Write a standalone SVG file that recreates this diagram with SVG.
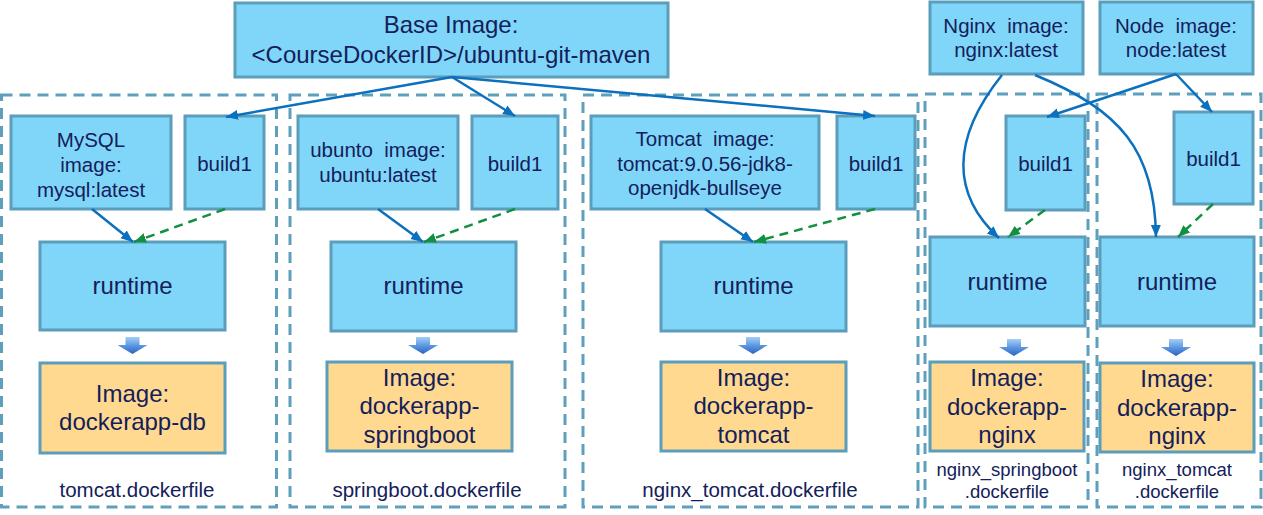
<svg xmlns="http://www.w3.org/2000/svg" width="1263" height="515" viewBox="0 0 1263 515">
<style>
  .grp { fill: none; stroke: #5E9FBC; stroke-width: 3; stroke-dasharray: 11 7; }
  .box { fill: #80D6F9; stroke: #5B9DBA; stroke-width: 3; }
  .img { fill: #FFD98F; stroke: #5B9DBA; stroke-width: 3; }
  text { font-family: "Liberation Sans", Arial, sans-serif; fill: #13205A; text-anchor: middle; }
  .t24 { font-size: 24px; }
  .t20 { font-size: 20.5px; }
  .t18 { font-size: 18.5px; }
  .blue { fill: none; stroke: #0B70BE; stroke-width: 2.5; marker-end: url(#ab); }
  .green { fill: none; stroke: #109040; stroke-width: 2.5; stroke-dasharray: 9 6; marker-end: url(#ag); }
</style>
<defs>
  <marker id="ab" markerUnits="userSpaceOnUse" markerWidth="14" markerHeight="12" refX="12" refY="6" orient="auto">
    <path d="M0,1 L12,6 L0,11 Z" fill="#0B70BE"/>
  </marker>
  <marker id="ag" markerUnits="userSpaceOnUse" markerWidth="14" markerHeight="12" refX="12" refY="6" orient="auto">
    <path d="M0,1 L12,6 L0,11 Z" fill="#109040"/>
  </marker>
  <linearGradient id="dg" x1="0" y1="0" x2="0" y2="1">
    <stop offset="0" stop-color="#A5CFF6"/>
    <stop offset="0.5" stop-color="#5C98E2"/>
    <stop offset="1" stop-color="#2C62C2"/>
  </linearGradient>
  <path id="down" d="M-7,0 L7,0 L7,8 L15,8 L0,17 L-15,8 L-7,8 Z" fill="url(#dg)"/>
</defs>

<!-- containers -->
<g id="containers">
  <rect id="c1" class="grp" x="1.5" y="95" width="275" height="412"/>
  <rect id="c2" class="grp" x="290" y="95" width="275" height="412"/>
  <rect id="c3" class="grp" x="583" y="95" width="335" height="412"/>
  <rect id="c4" class="grp" x="925" y="94" width="163" height="413"/>
  <rect id="c5" class="grp" x="1097" y="94" width="164" height="413"/>
</g>

<!-- top images -->
<g id="base">
  <rect class="box" x="235" y="3" width="433" height="74"/>
  <text class="t24" x="451" y="33">Base Image:</text>
  <text class="t24" x="451" y="63">&lt;CourseDockerID&gt;/ubuntu-git-maven</text>
</g>
<g id="nginx-img">
  <rect class="box" x="930" y="2" width="153" height="72"/>
  <text class="t20" x="1006" y="33" xml:space="preserve">Nginx  image:</text>
  <text class="t20" x="1006" y="57">nginx:latest</text>
</g>
<g id="node-img">
  <rect class="box" x="1100" y="2" width="153" height="72"/>
  <text class="t20" x="1176" y="33" xml:space="preserve">Node  image:</text>
  <text class="t20" x="1176" y="57">node:latest</text>
</g>

<!-- column 1 -->
<g id="mysql">
  <rect class="box" x="11" y="116" width="160" height="93"/>
  <text class="t20" x="91" y="147">MySQL</text>
  <text class="t20" x="91" y="172">image:</text>
  <text class="t20" x="91" y="197">mysql:latest</text>
</g>
<g id="build1-a">
  <rect class="box" x="185" y="116" width="79" height="93"/>
  <text class="t20" x="224.5" y="171">build1</text>
</g>
<g id="runtime-a">
  <rect class="box" x="40" y="242" width="185" height="88"/>
  <text class="t24" x="132.5" y="294">runtime</text>
</g>
<use href="#down" x="132.5" y="337"/>
<g id="img-db">
  <rect class="img" x="40" y="363" width="185" height="90"/>
  <text class="t24" x="132.5" y="402">Image:</text>
  <text class="t24" x="132.5" y="430">dockerapp-db</text>
</g>
<text class="t20" x="137" y="497">tomcat.dockerfile</text>

<!-- column 2 -->
<g id="ubuntu">
  <rect class="box" x="298" y="116" width="160" height="93"/>
  <text class="t20" x="378" y="157" xml:space="preserve">ubunto  image:</text>
  <text class="t20" x="378" y="182">ubuntu:latest</text>
</g>
<g id="build1-b">
  <rect class="box" x="472" y="116" width="86" height="93"/>
  <text class="t20" x="515" y="171">build1</text>
</g>
<g id="runtime-b">
  <rect class="box" x="331" y="242" width="185" height="89"/>
  <text class="t24" x="423.5" y="294">runtime</text>
</g>
<use href="#down" x="423" y="337"/>
<g id="img-springboot">
  <rect class="img" x="327" y="362" width="185" height="89"/>
  <text class="t24" x="419.5" y="386">Image:</text>
  <text class="t24" x="419.5" y="414">dockerapp-</text>
  <text class="t24" x="419.5" y="443">springboot</text>
</g>
<text class="t20" x="427" y="497">springboot.dockerfile</text>

<!-- column 3 -->
<g id="tomcat">
  <rect class="box" x="591" y="116" width="228" height="93"/>
  <text class="t20" x="705" y="146" xml:space="preserve">Tomcat  image:</text>
  <text class="t20" x="705" y="171">tomcat:9.0.56-jdk8-</text>
  <text class="t20" x="705" y="195">openjdk-bullseye</text>
</g>
<g id="build1-c">
  <rect class="box" x="837" y="116" width="78" height="93"/>
  <text class="t20" x="876" y="171">build1</text>
</g>
<g id="runtime-c">
  <rect class="box" x="661" y="242" width="185" height="89"/>
  <text class="t24" x="753.5" y="294">runtime</text>
</g>
<use href="#down" x="753" y="337"/>
<g id="img-tomcat">
  <rect class="img" x="661" y="362" width="185" height="89"/>
  <text class="t24" x="753.5" y="386">Image:</text>
  <text class="t24" x="753.5" y="414">dockerapp-</text>
  <text class="t24" x="753.5" y="443">tomcat</text>
</g>
<text class="t20" x="750" y="497">nginx_tomcat.dockerfile</text>

<!-- column 4 -->
<g id="build1-d">
  <rect class="box" x="1006" y="116" width="79" height="94"/>
  <text class="t20" x="1045.5" y="171">build1</text>
</g>
<g id="runtime-d">
  <rect class="box" x="930" y="237" width="155" height="89"/>
  <text class="t24" x="1007.5" y="290">runtime</text>
</g>
<use href="#down" x="1014" y="339"/>
<g id="img-nginx-a">
  <rect class="img" x="930" y="362" width="154" height="89"/>
  <text class="t24" x="1007" y="386">Image:</text>
  <text class="t24" x="1007" y="415">dockerapp-</text>
  <text class="t24" x="1007" y="443">nginx</text>
</g>
<text class="t18" x="1007" y="476">nginx_springboot</text>
<text class="t18" x="1007" y="498">.dockerfile</text>

<!-- column 5 -->
<g id="build1-e">
  <rect class="box" x="1174" y="112" width="79" height="92"/>
  <text class="t20" x="1213.5" y="166">build1</text>
</g>
<g id="runtime-e">
  <rect class="box" x="1100" y="237" width="154" height="89"/>
  <text class="t24" x="1177" y="290">runtime</text>
</g>
<use href="#down" x="1176" y="339"/>
<g id="img-nginx-b">
  <rect class="img" x="1100" y="363" width="154" height="89"/>
  <text class="t24" x="1177" y="387">Image:</text>
  <text class="t24" x="1177" y="416">dockerapp-</text>
  <text class="t24" x="1177" y="444">nginx</text>
</g>
<text class="t18" x="1177" y="476">nginx_tomcat</text>
<text class="t18" x="1177" y="498">.dockerfile</text>

<!-- connectors -->
<g id="connectors">
  <path class="blue" d="M452,77 L226,117"/>
  <path class="blue" d="M452,77 L515,116"/>
  <path class="blue" d="M452,77 L875,116"/>
  <path class="blue" d="M92,209 L133,242"/>
  <path class="green" d="M225,209 L134,242"/>
  <path class="blue" d="M378,209 L423,242"/>
  <path class="green" d="M515,209 L424,242"/>
  <path class="blue" d="M705,209 L753,242"/>
  <path class="green" d="M875,209 L754,242"/>
  <path class="blue" d="M1002,75 C950,140 952,195 999,238"/>
  <path class="blue" d="M1035,75 C1120,110 1155,150 1156,237"/>
  <path class="blue" d="M1176,74 L1047,117"/>
  <path class="blue" d="M1176,74 L1212,112"/>
  <path class="green" d="M1045,210 L1008,237"/>
  <path class="green" d="M1213,204 L1178,237"/>
</g>
</svg>
